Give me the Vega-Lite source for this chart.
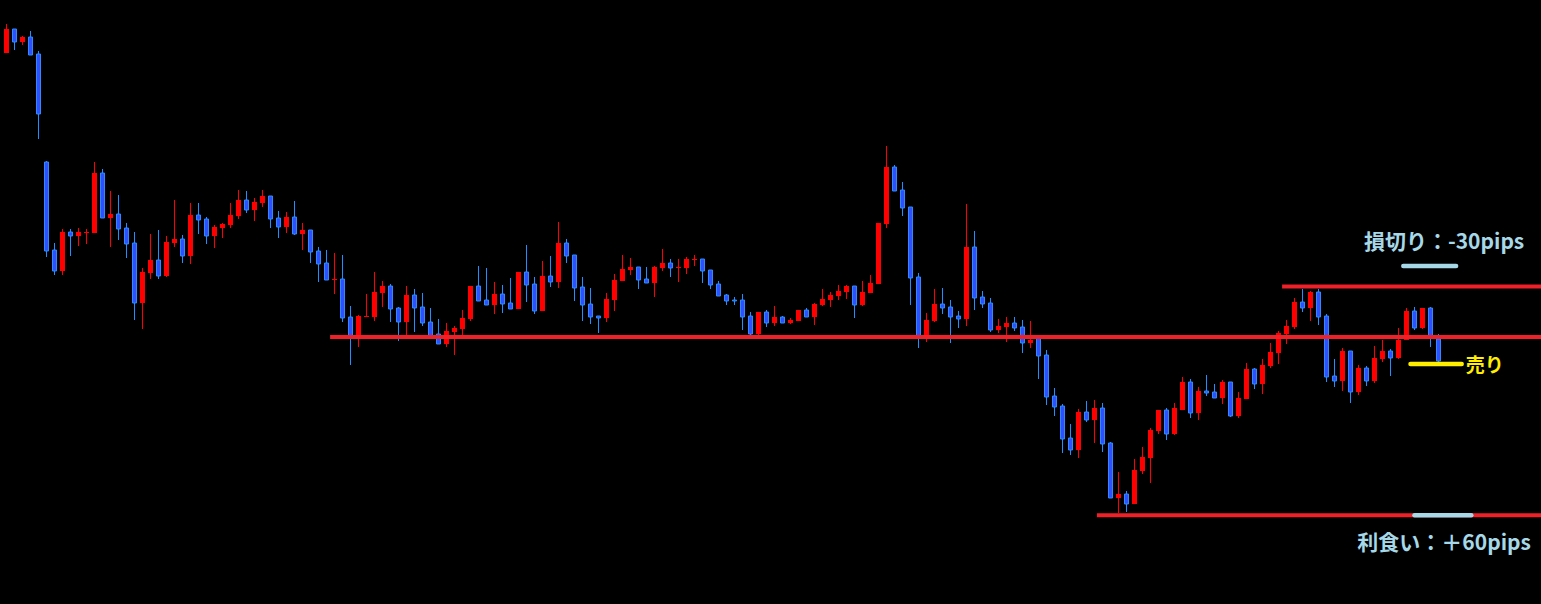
{
"$schema": "https://vega.github.io/schema/vega-lite/v6.json",
"width": 1541, "height": 604, "padding": 0,
"autosize": {"type": "none"},
"background": "#000000",
"config": {"view": {"stroke": null}, "scale": {"continuousPadding": 0}},
"datasets": {
"candles": [
{"i":0,"o":551,"h":580,"l":551,"c":575},{"i":1,"o":575,"h":575,"l":554,"c":562},{"i":2,"o":562,"h":568,"l":559,"c":567},{"i":3,"o":567,"h":573,"l":549,"c":549},{"i":4,"o":550,"h":553,"l":465,"c":490},
{"i":5,"o":442,"h":443,"l":347,"c":353},{"i":6,"o":354,"h":361,"l":329,"c":333},{"i":7,"o":333,"h":375,"l":329,"c":372},{"i":8,"o":372,"h":375,"l":348,"c":368},{"i":9,"o":368,"h":376,"l":358,"c":372},
{"i":10,"o":371,"h":375,"l":360,"c":372},{"i":11,"o":371,"h":442,"l":371,"c":431},{"i":12,"o":431,"h":435,"l":386,"c":386},{"i":13,"o":386,"h":413,"l":357,"c":390},{"i":14,"o":390,"h":409,"l":364,"c":375},
{"i":15,"o":376,"h":381,"l":346,"c":360},{"i":16,"o":361,"h":372,"l":284,"c":301},{"i":17,"o":301,"h":336,"l":275,"c":332},{"i":18,"o":331,"h":370,"l":325,"c":344},{"i":19,"o":344,"h":374,"l":325,"c":328},
{"i":20,"o":328,"h":368,"l":327,"c":362},{"i":21,"o":361,"h":404,"l":357,"c":365},{"i":22,"o":365,"h":369,"l":341,"c":348},{"i":23,"o":348,"h":401,"l":340,"c":389},{"i":24,"o":389,"h":401,"l":370,"c":384},
{"i":25,"o":385,"h":387,"l":360,"c":368},{"i":26,"o":368,"h":379,"l":356,"c":377},{"i":27,"o":376,"h":381,"l":366,"c":380},{"i":28,"o":379,"h":401,"l":376,"c":389},{"i":29,"o":388,"h":414,"l":385,"c":404},
{"i":30,"o":404,"h":413,"l":391,"c":394},{"i":31,"o":394,"h":406,"l":383,"c":402},{"i":32,"o":401,"h":414,"l":397,"c":408},{"i":33,"o":408,"h":408,"l":376,"c":385},{"i":34,"o":386,"h":393,"l":366,"c":377},
{"i":35,"o":377,"h":392,"l":371,"c":387},{"i":36,"o":387,"h":403,"l":369,"c":370},{"i":37,"o":370,"h":381,"l":354,"c":374},{"i":38,"o":374,"h":374,"l":341,"c":352},{"i":39,"o":353,"h":357,"l":322,"c":340},
{"i":40,"o":341,"h":354,"l":324,"c":324},{"i":41,"o":324,"h":351,"l":310,"c":325},{"i":42,"o":325,"h":349,"l":282,"c":286},{"i":43,"o":287,"h":298,"l":239,"c":267},{"i":44,"o":267,"h":289,"l":257,"c":288},
{"i":45,"o":287,"h":310,"l":287,"c":288},{"i":46,"o":287,"h":332,"l":283,"c":312},{"i":47,"o":311,"h":323,"l":297,"c":318},{"i":48,"o":318,"h":320,"l":282,"c":295},{"i":49,"o":296,"h":297,"l":263,"c":282},
{"i":50,"o":282,"h":318,"l":269,"c":309},{"i":51,"o":309,"h":315,"l":272,"c":296},{"i":52,"o":297,"h":311,"l":278,"c":281},{"i":53,"o":282,"h":296,"l":266,"c":268},{"i":54,"o":270,"h":285,"l":260,"c":260},
{"i":55,"o":260,"h":281,"l":257,"c":273},{"i":56,"o":272,"h":278,"l":249,"c":276},{"i":57,"o":275,"h":294,"l":269,"c":286},{"i":58,"o":285,"h":318,"l":283,"c":318},{"i":59,"o":318,"h":338,"l":303,"c":303},
{"i":60,"o":304,"h":336,"l":299,"c":299},{"i":61,"o":299,"h":322,"l":290,"c":310},{"i":62,"o":310,"h":319,"l":291,"c":300},{"i":63,"o":301,"h":326,"l":295,"c":295},{"i":64,"o":295,"h":332,"l":295,"c":332},
{"i":65,"o":332,"h":359,"l":302,"c":319},{"i":66,"o":320,"h":327,"l":290,"c":293},{"i":67,"o":293,"h":343,"l":293,"c":328},{"i":68,"o":328,"h":348,"l":317,"c":322},{"i":69,"o":322,"h":382,"l":316,"c":361},
{"i":70,"o":361,"h":365,"l":341,"c":348},{"i":71,"o":349,"h":349,"l":303,"c":316},{"i":72,"o":317,"h":327,"l":283,"c":299},{"i":73,"o":300,"h":316,"l":280,"c":287},{"i":74,"o":288,"h":288,"l":271,"c":286},
{"i":75,"o":286,"h":311,"l":282,"c":305},{"i":76,"o":304,"h":330,"l":293,"c":324},{"i":77,"o":323,"h":349,"l":323,"c":335},{"i":78,"o":334,"h":346,"l":329,"c":337},{"i":79,"o":337,"h":337,"l":315,"c":324},
{"i":80,"o":325,"h":337,"l":321,"c":321},{"i":81,"o":321,"h":338,"l":307,"c":337},{"i":82,"o":336,"h":355,"l":333,"c":341},{"i":83,"o":341,"h":345,"l":327,"c":336},{"i":84,"o":336,"h":345,"l":322,"c":337},
{"i":85,"o":336,"h":347,"l":330,"c":345},{"i":86,"o":344,"h":349,"l":338,"c":345},{"i":87,"o":345,"h":345,"l":321,"c":333},{"i":88,"o":334,"h":334,"l":315,"c":319},{"i":89,"o":320,"h":323,"l":308,"c":308},
{"i":90,"o":309,"h":310,"l":299,"c":303},{"i":91,"o":304,"h":307,"l":299,"c":303},{"i":92,"o":304,"h":310,"l":274,"c":287},{"i":93,"o":288,"h":292,"l":269,"c":270},{"i":94,"o":270,"h":292,"l":268,"c":292},
{"i":95,"o":292,"h":294,"l":277,"c":281},{"i":96,"o":281,"h":298,"l":278,"c":287},{"i":97,"o":287,"h":288,"l":281,"c":281},{"i":98,"o":281,"h":286,"l":280,"c":284},{"i":99,"o":283,"h":294,"l":283,"c":294},
{"i":100,"o":294,"h":296,"l":287,"c":287},{"i":101,"o":287,"h":301,"l":279,"c":300},{"i":102,"o":299,"h":315,"l":298,"c":305},{"i":103,"o":304,"h":312,"l":297,"c":309},{"i":104,"o":308,"h":319,"l":304,"c":313},
{"i":105,"o":312,"h":319,"l":305,"c":318},{"i":106,"o":318,"h":318,"l":286,"c":299},{"i":107,"o":299,"h":323,"l":298,"c":312},{"i":108,"o":311,"h":329,"l":311,"c":321},{"i":109,"o":320,"h":381,"l":320,"c":381},
{"i":110,"o":380,"h":458,"l":376,"c":437},{"i":111,"o":437,"h":439,"l":413,"c":413},{"i":112,"o":414,"h":422,"l":388,"c":396},{"i":113,"o":397,"h":397,"l":299,"c":326},{"i":114,"o":327,"h":331,"l":256,"c":268},
{"i":115,"o":267,"h":291,"l":262,"c":284},{"i":116,"o":283,"h":315,"l":282,"c":300},{"i":117,"o":300,"h":316,"l":290,"c":296},{"i":118,"o":297,"h":304,"l":261,"c":287},{"i":119,"o":288,"h":293,"l":276,"c":285},
{"i":120,"o":285,"h":400,"l":278,"c":357},{"i":121,"o":357,"h":373,"l":294,"c":306},{"i":122,"o":307,"h":313,"l":296,"c":300},{"i":123,"o":301,"h":306,"l":272,"c":274},{"i":124,"o":274,"h":285,"l":271,"c":278},
{"i":125,"o":277,"h":287,"l":262,"c":281},{"i":126,"o":281,"h":287,"l":273,"c":276},{"i":127,"o":277,"h":284,"l":251,"c":261},{"i":128,"o":261,"h":283,"l":256,"c":264},{"i":129,"o":267,"h":267,"l":225,"c":248},
{"i":130,"o":249,"h":254,"l":199,"c":207},{"i":131,"o":208,"h":216,"l":188,"c":197},{"i":132,"o":198,"h":200,"l":151,"c":165},{"i":133,"o":166,"h":180,"l":149,"c":154},{"i":134,"o":154,"h":195,"l":146,"c":192},
{"i":135,"o":192,"h":203,"l":182,"c":184},{"i":136,"o":184,"h":204,"l":161,"c":196},{"i":137,"o":196,"h":201,"l":152,"c":160},{"i":138,"o":161,"h":162,"l":106,"c":106},{"i":139,"o":106,"h":132,"l":91,"c":110},
{"i":140,"o":110,"h":113,"l":92,"c":100},{"i":141,"o":100,"h":145,"l":100,"c":134},{"i":142,"o":133,"h":157,"l":130,"c":147},{"i":143,"o":146,"h":176,"l":121,"c":174},{"i":144,"o":173,"h":194,"l":170,"c":194},
{"i":145,"o":194,"h":196,"l":164,"c":170},{"i":146,"o":170,"h":201,"l":169,"c":196},{"i":147,"o":194,"h":227,"l":194,"c":222},{"i":148,"o":222,"h":225,"l":186,"c":191},{"i":149,"o":191,"h":217,"l":184,"c":213},
{"i":150,"o":213,"h":229,"l":208,"c":211},{"i":151,"o":212,"h":220,"l":206,"c":206},{"i":152,"o":206,"h":224,"l":200,"c":222},{"i":153,"o":222,"h":222,"l":187,"c":188},{"i":154,"o":188,"h":212,"l":186,"c":206},
{"i":155,"o":205,"h":241,"l":205,"c":235},{"i":156,"o":235,"h":236,"l":215,"c":220},{"i":157,"o":220,"h":245,"l":210,"c":239},{"i":158,"o":238,"h":261,"l":236,"c":252},{"i":159,"o":251,"h":273,"l":240,"c":271},
{"i":160,"o":270,"h":284,"l":260,"c":278},{"i":161,"o":277,"h":306,"l":275,"c":302},{"i":162,"o":302,"h":315,"l":292,"c":296},{"i":163,"o":296,"h":313,"l":283,"c":312},{"i":164,"o":312,"h":315,"l":279,"c":287},
{"i":165,"o":288,"h":290,"l":222,"c":227},{"i":166,"o":228,"h":245,"l":217,"c":223},{"i":167,"o":223,"h":256,"l":213,"c":253},{"i":168,"o":253,"h":253,"l":201,"c":212},{"i":169,"o":212,"h":239,"l":209,"c":236},
{"i":170,"o":236,"h":238,"l":218,"c":223},{"i":171,"o":223,"h":258,"l":221,"c":246},{"i":172,"o":245,"h":264,"l":242,"c":253},{"i":173,"o":253,"h":255,"l":228,"c":246},{"i":174,"o":246,"h":276,"l":245,"c":264},
{"i":175,"o":264,"h":296,"l":264,"c":293},{"i":176,"o":293,"h":297,"l":274,"c":276},{"i":177,"o":276,"h":296,"l":275,"c":296},{"i":178,"o":296,"h":297,"l":257,"c":268},{"i":179,"o":265,"h":270,"l":242,"c":243}
],
"levels": [
{"x1":40.45,"x2":192.5,"p":267},
{"x1":159.45,"x2":192.5,"p":317.5},
{"x1":136.3,"x2":192.5,"p":88.7}
],
"marks": [
{"x1":174.6,"x2":181.2,"p":338,"kind":"sl"},
{"x1":176.0,"x2":183.1,"p":88.7,"kind":"tp"}
],
"entry": [{"x1":175.5,"x2":181.9,"p":240}],
"labels": [
{"x":179.7,"p":361,"t":"損切り：-30pips"},
{"x":179.7,"p":60,"t":"利食い：＋60pips"}
],
"entrylabel": [{"x":182.4,"p":238,"t":"売り"}]
},
"layer": [
{
"data": {"name": "candles"},
"mark": {"type": "rule", "strokeWidth": 1},
"encoding": {
"x": {"field": "i", "type": "quantitative", "scale": {"domain": [-0.8125, 191.8125], "nice": false, "zero": false, "padding": 0}, "axis": null},
"y": {"field": "l", "type": "quantitative", "scale": {"domain": [0, 604], "nice": false, "zero": false, "padding": 0}, "axis": null},
"y2": {"field": "h"},
"color": {"condition": {"test": "datum.c >= datum.o", "value": "#ff0000"}, "value": "#1e90ff"}
}
},
{
"data": {"name": "candles"},
"transform": [{"filter": "datum.c >= datum.o"}],
"mark": {"type": "bar", "width": 5, "color": "#ff0000"},
"encoding": {
"x": {"field": "i", "type": "quantitative", "scale": {"domain": [-0.8125, 191.8125], "nice": false, "zero": false, "padding": 0}, "axis": null},
"y": {"field": "o", "type": "quantitative", "scale": {"domain": [0, 604], "nice": false, "zero": false, "padding": 0}, "axis": null},
"y2": {"field": "c"}
}
},
{
"data": {"name": "candles"},
"transform": [{"filter": "datum.c < datum.o"}],
"mark": {"type": "bar", "width": 4, "fill": "#3050ff", "stroke": "#2a8cff", "strokeWidth": 1},
"encoding": {
"x": {"field": "i", "type": "quantitative", "scale": {"domain": [-0.8125, 191.8125], "nice": false, "zero": false, "padding": 0}, "axis": null},
"y": {"field": "o", "type": "quantitative", "scale": {"domain": [0, 604], "nice": false, "zero": false, "padding": 0}, "axis": null},
"y2": {"field": "c"}
}
},
{
"data": {"name": "levels"},
"mark": {"type": "rule", "strokeWidth": 4, "color": "#ee2028"},
"encoding": {
"x": {"field": "x1", "type": "quantitative", "scale": {"domain": [-0.8125, 191.8125], "nice": false, "zero": false, "padding": 0}, "axis": null},
"x2": {"field": "x2"},
"y": {"field": "p", "type": "quantitative", "scale": {"domain": [0, 604], "nice": false, "zero": false, "padding": 0}, "axis": null}
}
},
{
"data": {"name": "marks"},
"mark": {"type": "rule", "strokeWidth": 4.5, "strokeCap": "round", "color": "#a6d8e8"},
"encoding": {
"x": {"field": "x1", "type": "quantitative", "scale": {"domain": [-0.8125, 191.8125], "nice": false, "zero": false, "padding": 0}, "axis": null},
"x2": {"field": "x2"},
"y": {"field": "p", "type": "quantitative", "scale": {"domain": [0, 604], "nice": false, "zero": false, "padding": 0}, "axis": null}
}
},
{
"data": {"name": "entry"},
"mark": {"type": "rule", "strokeWidth": 4.5, "strokeCap": "round", "color": "#ffee00"},
"encoding": {
"x": {"field": "x1", "type": "quantitative", "scale": {"domain": [-0.8125, 191.8125], "nice": false, "zero": false, "padding": 0}, "axis": null},
"x2": {"field": "x2"},
"y": {"field": "p", "type": "quantitative", "scale": {"domain": [0, 604], "nice": false, "zero": false, "padding": 0}, "axis": null}
}
},
{
"data": {"name": "labels"},
"mark": {"type": "text", "font": "Noto Sans CJK JP", "fontWeight": "bold", "fontSize": 21, "align": "center", "baseline": "middle", "color": "#a6d8e8"},
"encoding": {
"x": {"field": "x", "type": "quantitative", "scale": {"domain": [-0.8125, 191.8125], "nice": false, "zero": false, "padding": 0}, "axis": null},
"y": {"field": "p", "type": "quantitative", "scale": {"domain": [0, 604], "nice": false, "zero": false, "padding": 0}, "axis": null},
"text": {"field": "t"}
}
},
{
"data": {"name": "entrylabel"},
"mark": {"type": "text", "font": "Noto Sans CJK JP", "fontWeight": "bold", "fontSize": 19, "align": "left", "baseline": "middle", "color": "#ffee00"},
"encoding": {
"x": {"field": "x", "type": "quantitative", "scale": {"domain": [-0.8125, 191.8125], "nice": false, "zero": false, "padding": 0}, "axis": null},
"y": {"field": "p", "type": "quantitative", "scale": {"domain": [0, 604], "nice": false, "zero": false, "padding": 0}, "axis": null},
"text": {"field": "t"}
}
}
]
}
